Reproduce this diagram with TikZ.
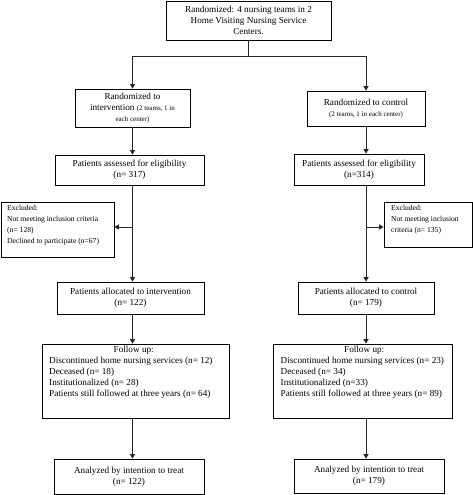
\documentclass[tikz,border=0pt]{standalone}
\usepackage{fontspec}
\setmainfont{Liberation Serif}
\usetikzlibrary{arrows.meta}
\begin{document}
\begin{tikzpicture}[x=1pt,y=1pt,
  box/.style={draw=black,line width=0.8pt,rectangle,inner sep=0pt,align=center,
    font=\fontsize{9.2}{11}\selectfont},
  txt/.style={inner sep=0pt,align=left,anchor=north west},
  conn/.style={draw=black!85,line width=1pt},
  arr/.style={conn,-{Triangle[length=4.5pt,width=5pt]}}]
\useasboundingbox (0,0) rectangle (473,-495);
\fill[white] (0,0) rectangle (473,-495);
% boxes
\node[box,minimum width=165,minimum height=39] (top) at (248.5,-20.5)
  {Randomized: 4 nursing teams in 2\\Home Visiting Nursing Service\\Centers.};
\node[box,minimum width=115,minimum height=38] (lr) at (132.5,-108)
  {Randomized to\\intervention {\fontsize{7}{8}\selectfont(2 teams, 1 in}\\{\fontsize{7}{8}\selectfont each center)}};
\node[box,minimum width=118,minimum height=35] (rr) at (366,-108.5)
  {Randomized to control\\{\fontsize{7}{9}\selectfont(2 teams, 1 in each center)}};
\node[box,minimum width=149,minimum height=30] (la) at (129.5,-170)
  {Patients assessed for eligibility\\(n= 317)};
\node[box,minimum width=130,minimum height=31] (ra) at (359,-169.5)
  {Patients assessed for eligibility\\(n=314)};
\node[box,minimum width=113,minimum height=55] (le) at (57.5,-229.5) {};
\node[txt,font=\fontsize{7.6}{11}\selectfont] (let) at (7,-205)
  {Excluded:\\Not meeting inclusion criteria\\(n= 128)\\Declined to participate (n=67)};
\node[box,minimum width=88,minimum height=45] (re) at (428,-224.5) {};
\node[txt,font=\fontsize{7.6}{11}\selectfont] (ret) at (391,-205)
  {Excluded:\\Not meeting inclusion\\criteria (n= 135)};
\node[box,minimum width=147,minimum height=32] (lal) at (130.5,-298)
  {Patients allocated to intervention\\(n= 122)};
\node[box,minimum width=136,minimum height=32] (ral) at (366,-298)
  {Patients allocated to control\\(n= 179)};
\node[box,minimum width=187,minimum height=74] (lf) at (135.5,-381) {};
\node[txt,font=\fontsize{9.2}{11}\selectfont] (lft) at (49,-346)
  {\makebox[169pt]{Follow up:}\\Discontinued home nursing services (n= 12)\\Deceased (n= 18)\\Institutionalized (n= 28)\\Patients still followed at three years (n= 64)};
\node[box,minimum width=179,minimum height=74] (rf) at (362.5,-381) {};
\node[txt,font=\fontsize{9.2}{11}\selectfont] (rft) at (280.5,-346)
  {\makebox[167pt]{Follow up:}\\Discontinued home nursing services (n= 23)\\Deceased (n= 34)\\Institutionalized (n=33)\\Patients still followed at three years (n= 89)};
\node[box,minimum width=150,minimum height=35] (lan) at (129,-476.5)
  {Analyzed by intention to treat\\(n= 122)};
\node[box,minimum width=150,minimum height=34] (ran) at (369,-476)
  {Analyzed by intention to treat\\(n= 179)};
% connectors
\coordinate (split) at ([yshift=-16pt]top.south);
\draw[conn] (top.south) -- (split);
\draw[arr] (split) -| (lr.north);
\draw[arr] (split) -| (rr.north);
\draw[arr] (lr.south) -- (lr.south |- la.north);
\draw[arr] (rr.south) -- (rr.south |- ra.north);
\draw[arr] (lr.south |- la.south) -- (lr.south |- lal.north);
\draw[arr] (rr.south |- ra.south) -- (rr.south |- ral.north);
\coordinate (lb) at (lr.south |- 0,-227);
\coordinate (rb) at (rr.south |- 0,-227);
\draw[arr] (lb) -- (lb -| le.east);
\draw[arr] (rb) -- (rb -| re.west);
\draw[arr] (lr.south |- lal.south) -- (lr.south |- lf.north);
\draw[arr] (rr.south |- ral.south) -- (rr.south |- rf.north);
\draw[arr] (lr.south |- lf.south) -- (lr.south |- lan.north);
\draw[arr] (rr.south |- rf.south) -- (rr.south |- ran.north);
\end{tikzpicture}
\end{document}
